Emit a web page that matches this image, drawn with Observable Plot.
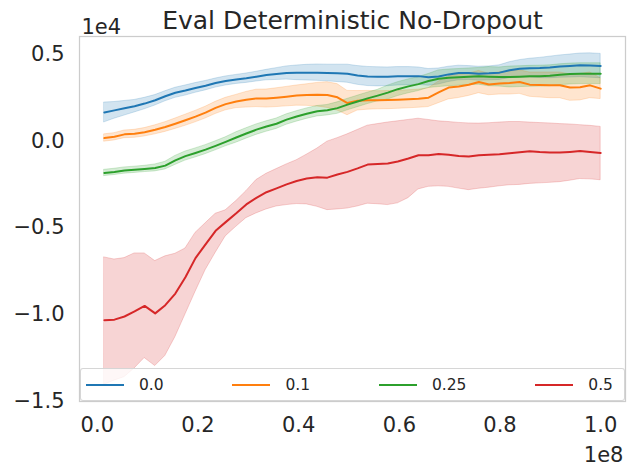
<!DOCTYPE html>
<html><head><meta charset="utf-8">
<script src="https://cdn.jsdelivr.net/npm/d3@7"></script>
<script src="https://cdn.jsdelivr.net/npm/@observablehq/plot@0.6"></script>
<style>
body{margin:0;background:#fff;}
#wrap{position:relative;width:635px;height:474px;font-family:"DejaVu Sans",sans-serif;color:#262626;overflow:hidden;}
#wrap svg{display:block;}
#legend{position:absolute;left:80px;top:368px;width:545px;height:33px;box-sizing:border-box;border:1px solid rgba(204,204,204,0.8);border-radius:3px;background:rgba(255,255,255,0.8);display:flex;justify-content:space-between;align-items:center;padding:0 11px 0 5px;font-size:15.5px;color:#262626;}
.item{display:flex;align-items:center;}
.sw{width:38px;height:2px;margin-right:15px;}
</style></head><body><div id="wrap"></div>
<script>
const title = "Eval Deterministic No-Dropout";
const names = ["0.0", "0.1", "0.25", "0.5"];
const colors = ["#1f77b4", "#ff7f0e", "#2ca02c", "#d62728"];
const xTicks = [0, 20, 40, 60, 80, 100];          // millions of steps
const yTicks = [-15000, -10000, -5000, 0, 5000];

// environment steps, in millions
const steps = [1.4, 3.4, 5.4, 7.4, 9.4, 11.5, 13.5, 15.5, 17.5, 19.5, 21.5, 23.5, 25.5, 27.6, 29.6, 31.6, 33.6, 35.6, 37.6, 39.6, 41.6, 43.7, 45.7, 47.7, 49.7, 51.7, 53.7, 55.7, 57.7, 59.7, 61.8, 63.8, 65.8, 67.8, 69.8, 71.8, 73.8, 75.8, 77.8, 79.9, 81.9, 83.9, 85.9, 87.9, 89.9, 91.9, 93.9, 95.9, 97.9, 100.0];

const blueMean = [1630,1750,1870,1990,2140,2330,2560,2760,2890,3040, 3170,3320,3440,3530,3600,3690,3780,3840,3900,3910, 3920,3920,3900,3880,3860,3760,3700,3680,3680,3710, 3720,3720,3650,3700,3820,3900,3900,3860,3880,3920, 4060,4140,4180,4190,4220,4270,4300,4340,4330,4300];
const blueSpread = [570,480,420,360,330,300,290,290,290,280, 270,260,260,260,270,280,300,340,380,420, 450,470,480,500,520,540,550,550,540,530, 520,500,480,460,440,420,400,400,400,420, 460,500,540,580,620,640,660,680,700,700];

const orangeMean = [160,230,370,400,490,630,790,980,1180,1390, 1620,1890,2110,2260,2360,2440,2430,2480,2540,2600, 2630,2650,2630,2500,2170,2300,2330,2330,2340,2360, 2390,2420,2480,2780,3060,3120,3220,3380,3240,3300, 3320,3380,3230,3210,3190,3190,3060,3080,3190,3000];
const orangeSpread = [210,210,220,230,240,260,280,300,320,330, 340,350,360,380,450,500,520,540,560,580, 620,680,740,760,700,560,540,520,520,520, 520,520,540,620,680,660,640,640,620,640, 660,680,700,720,740,740,760,760,740,600];

const greenMean = [-1850,-1790,-1710,-1670,-1620,-1560,-1430,-1130,-880,-700, -510,-290,-60,190,420,640,820,980,1220,1400, 1560,1700,1760,1880,2080,2260,2440,2600,2770,2970, 3130,3260,3440,3570,3620,3650,3680,3710,3690,3670, 3670,3690,3710,3720,3740,3800,3840,3860,3860,3860];
const greenSpread = [180,180,180,180,180,200,220,260,260,260, 260,260,260,300,300,300,300,300,300,300, 300,300,300,330,330,330,330,330,400,400, 400,400,400,480,480,480,480,480,550,550, 600,600,600,600,600,600,600,600,600,600];

const redMean = [-10320,-10290,-10110,-9820,-9500,-9930,-9460,-8790,-7850,-6750, -5960,-5180,-4680,-4170,-3660,-3280,-2960,-2740,-2510,-2310, -2170,-2100,-2120,-1940,-1790,-1590,-1370,-1340,-1310,-1190, -1020,-830,-830,-760,-800,-880,-900,-830,-800,-780, -720,-660,-600,-650,-680,-680,-640,-590,-650,-700];
const redHi = [-6710,-6830,-6750,-6480,-6480,-6920,-6650,-6500,-6200,-5300, -4750,-4200,-4000,-3470,-2900,-2260,-1900,-1630,-1360,-1120, -800,-450,-50,150,370,620,870,960,1050,1120, 1200,1270,1200,1120,1080,1030,1000,990,1010,1050, 1080,1080,1050,1020,1000,960,940,900,860,800];
const redLo = [-14030,-13800,-13600,-13100,-12500,-12960,-12380,-11300,-10000,-8700, -7450,-6450,-5500,-4950,-4450,-4180,-3950,-3780,-3700,-3640, -3660,-3800,-3990,-3950,-3900,-3780,-3620,-3650,-3700,-3600, -3300,-2800,-2650,-2620,-2650,-2750,-2840,-2760,-2700,-2620, -2560,-2540,-2480,-2450,-2420,-2380,-2300,-2200,-2220,-2270];

// build long table
const table = [];
function addSymmetric(name, mean, spread) {
  steps.forEach((s, i) => table.push({series: name, step: s, mean: mean[i], lo: mean[i] - spread[i], hi: mean[i] + spread[i]}));
}
addSymmetric(names[0], blueMean, blueSpread);
addSymmetric(names[1], orangeMean, orangeSpread);
addSymmetric(names[2], greenMean, greenSpread);
steps.forEach((s, i) => table.push({series: names[3], step: s, mean: redMean[i], lo: redLo[i], hi: redHi[i]}));

const fmt = d3.format(".1f");
const chart = Plot.plot({
  width: 635, height: 474,
  marginLeft: 79, marginRight: 10, marginTop: 36, marginBottom: 73,
  style: {fontFamily: '"DejaVu Sans", sans-serif', fontSize: "21px", color: "#262626", background: "white"},
  x: {domain: [-3.54, 104.93], ticks: xTicks, tickFormat: d => fmt(d / 100), tickSize: 0, tickPadding: 16, label: null},
  y: {domain: [-15000, 6000], ticks: yTicks, tickFormat: d => fmt(d / 1e4), tickSize: 0, tickPadding: 15, label: null},
  color: {domain: names, range: colors},
  marks: [
    Plot.areaY(table, {x: "step", y1: "lo", y2: "hi", z: "series", fill: "series", fillOpacity: 0.2, stroke: "series", strokeOpacity: 0.2, strokeWidth: 1}),
    Plot.line(table, {x: "step", y: "mean", z: "series", stroke: "series", strokeWidth: 2}),
    Plot.frame({stroke: "#cccccc", strokeWidth: 1.25}),
    Plot.text([title], {text: d => d, frameAnchor: "top", lineAnchor: "bottom", dy: -8, fontSize: 25}),
    Plot.text(["1e4"], {text: d => d, frameAnchor: "top-left", textAnchor: "start", lineAnchor: "bottom", dx: 2, dy: -3, fontSize: 21}),
    Plot.text(["1e8"], {text: d => d, frameAnchor: "bottom-right", textAnchor: "end", lineAnchor: "bottom", dx: -2, dy: 60, fontSize: 21})
  ]
});
const wrap = document.getElementById("wrap");
wrap.append(chart);

const legend = document.createElement("div");
legend.id = "legend";
names.forEach((n, i) => {
  const it = document.createElement("div");
  it.className = "item";
  const sw = document.createElement("div");
  sw.className = "sw";
  sw.style.background = colors[i];
  const lab = document.createElement("span");
  lab.textContent = n;
  it.append(sw, lab);
  legend.append(it);
});
wrap.append(legend);
</script>
</body></html>
